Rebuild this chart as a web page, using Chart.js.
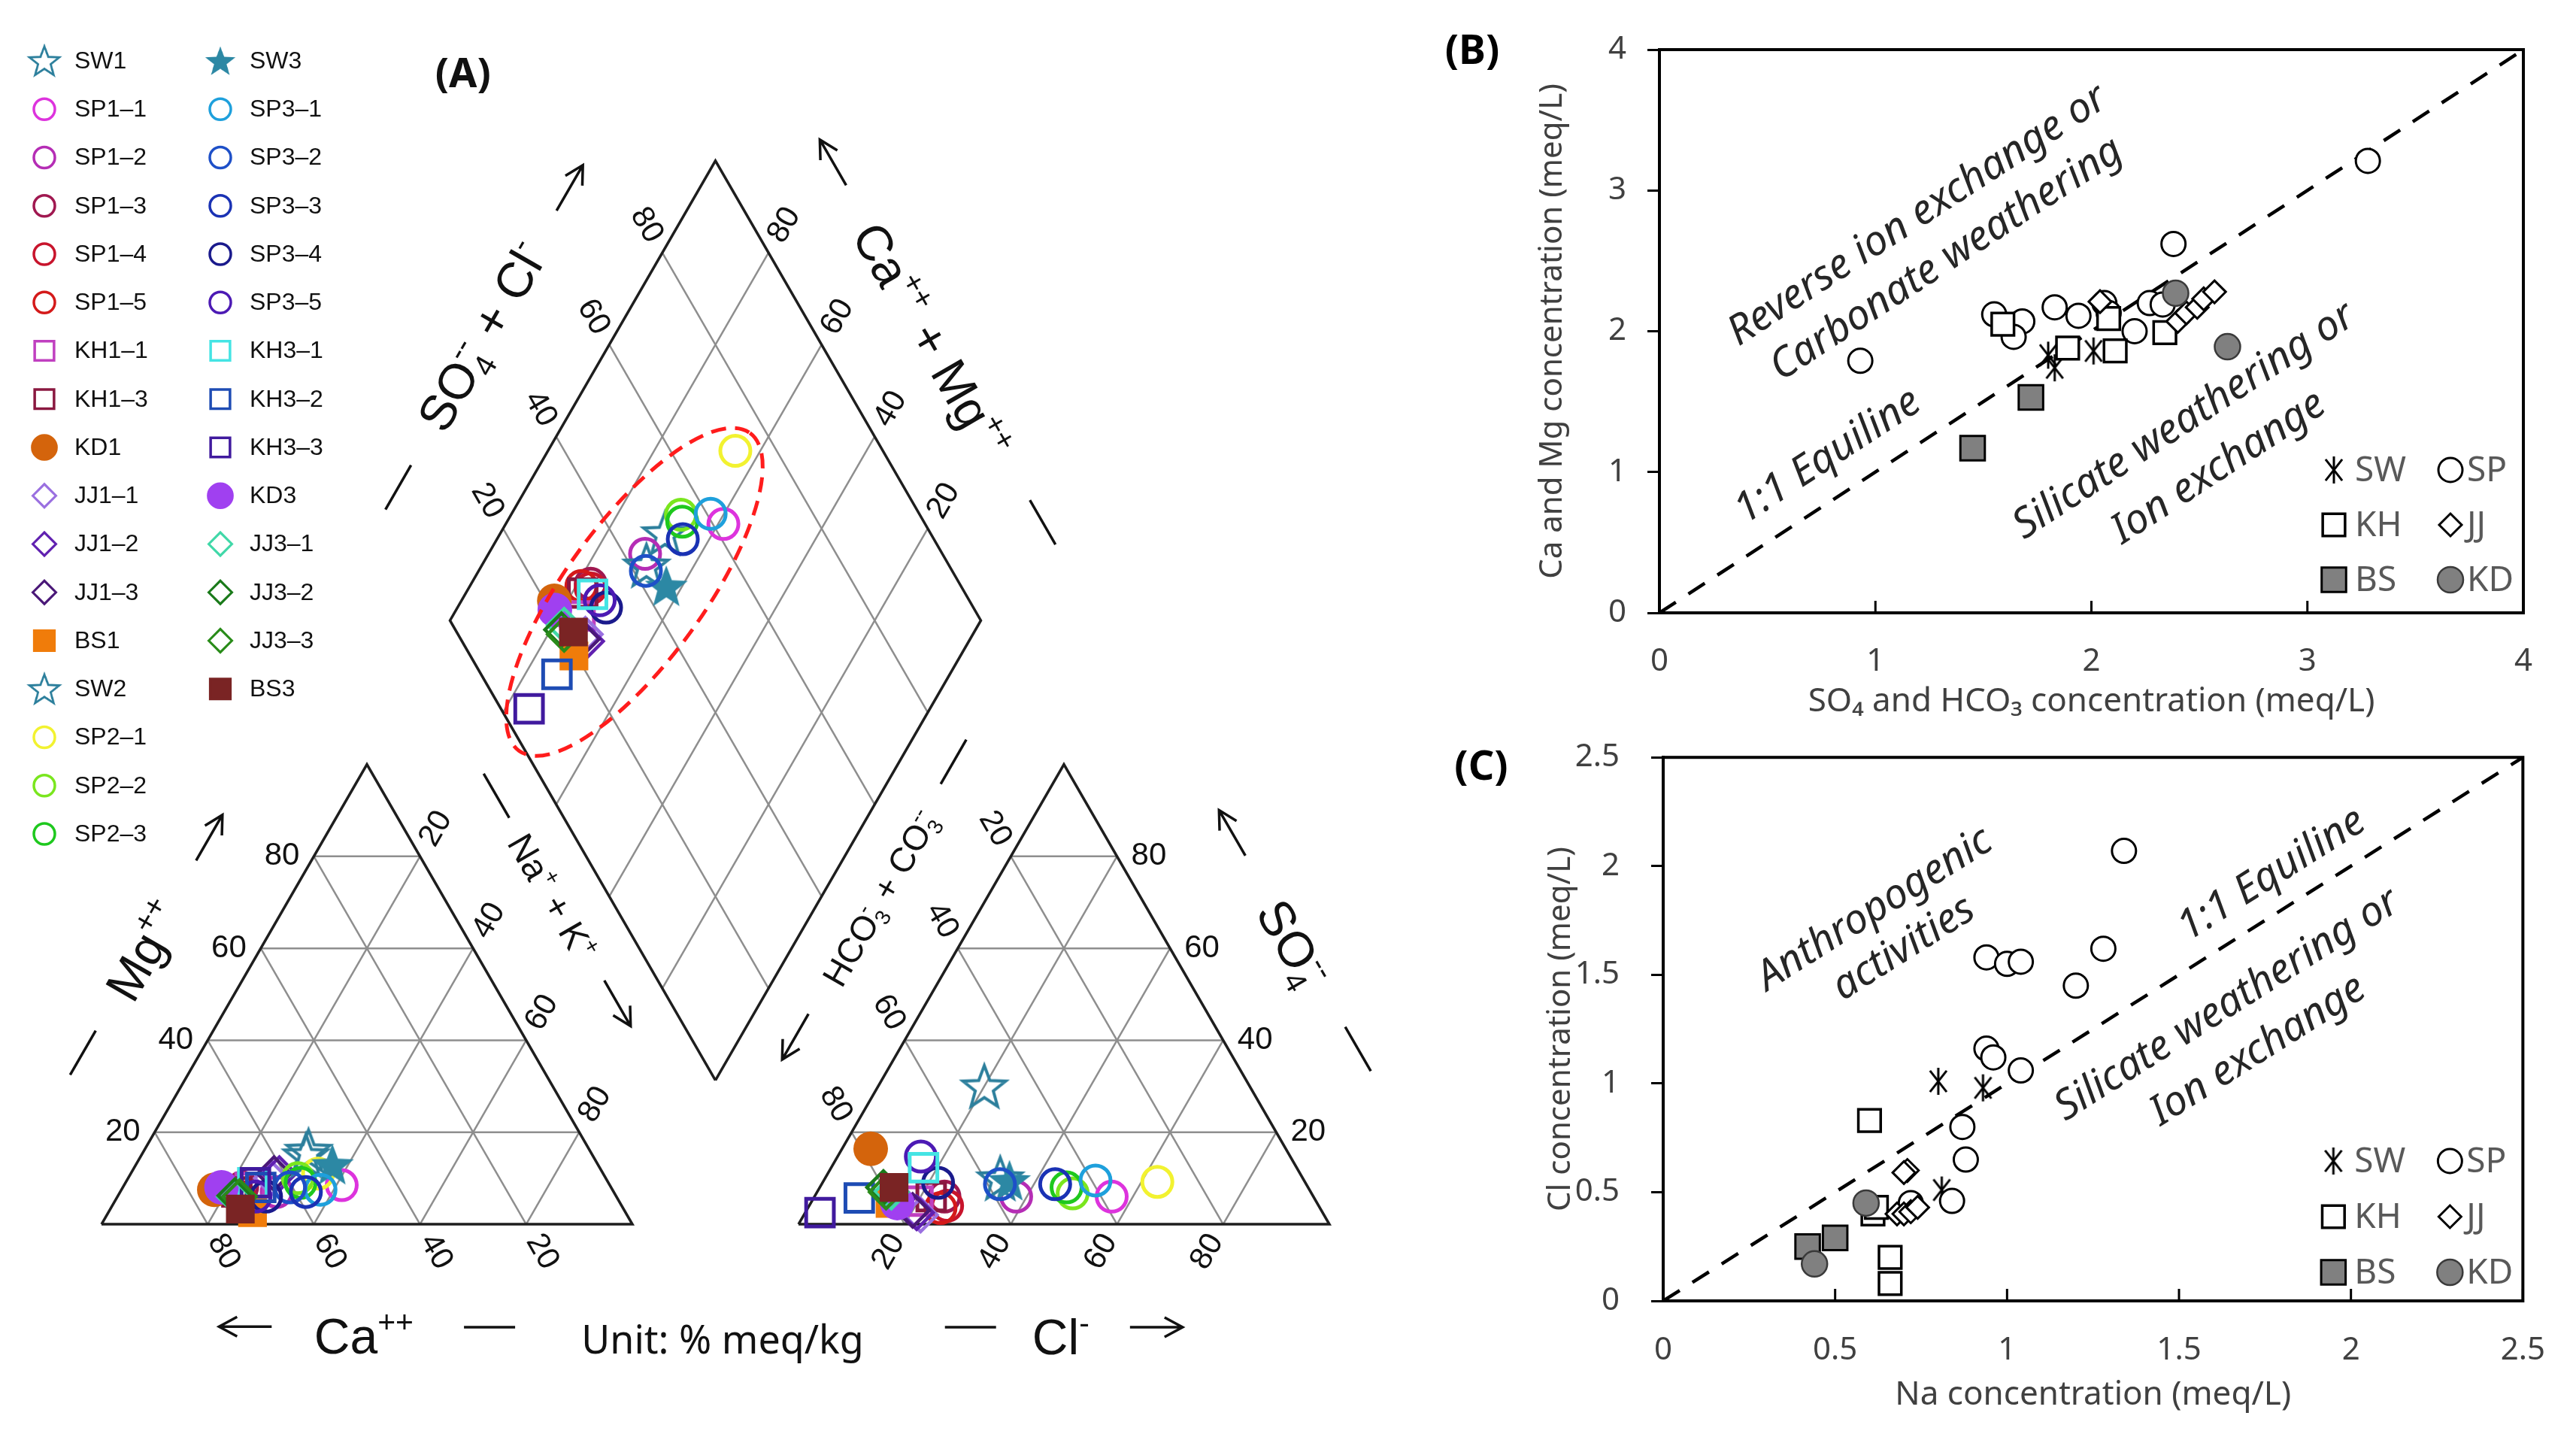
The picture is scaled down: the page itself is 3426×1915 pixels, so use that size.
<!DOCTYPE html>
<html>
<head>
<meta charset="utf-8">
<script src="https://cdn.jsdelivr.net/npm/chart.js@4.4.1/dist/chart.umd.min.js"></script>
<style>
  html, body { margin: 0; padding: 0; background: #fff; }
  body { width: 3426px; height: 1915px; position: relative; overflow: hidden; }
  canvas { position: absolute; }
  #piper { left: 0; top: 0; }
  #chartB { left: 1900px; top: 0; }
  #chartC { left: 1900px; top: 940px; }
</style>
</head>
<body>
<canvas id="piper" width="1900" height="1915"></canvas>
<canvas id="chartB" width="1526" height="960"></canvas>
<canvas id="chartC" width="1526" height="975"></canvas>
<script>
/* Piper diagram (A) + ion ratio scatter plots (B), (C) */

// ─── Data ────────────────────────────────────────────────────────────────────

// Piper samples, legend order (column 1 then column 2)
const sampleNames = [
  "SW1", "SP1–1", "SP1–2", "SP1–3", "SP1–4", "SP1–5", "KH1–1", "KH1–3", "KD1",
  "JJ1–1", "JJ1–2", "JJ1–3", "BS1", "SW2", "SP2–1", "SP2–2", "SP2–3",
  "SW3", "SP3–1", "SP3–2", "SP3–3", "SP3–4", "SP3–5", "KH3–1", "KH3–2", "KH3–3",
  "KD3", "JJ3–1", "JJ3–2", "JJ3–3", "BS3",
];
// cations, % meq (Na+K is the remainder)
const caPct  = [53, 50.5, 63.5, 69.5, 71, 72, 68, 71, 75, 63, 61, 62, 70.3, 54, 53.7, 58, 58,
                50, 55, 60.5, 58, 66, 68, 67, 66, 66.5, 73.4, 72, 71.8, 71, 72.2];
const mgPct  = [16, 8.5, 7, 8, 6, 7, 8, 7, 7.5, 10, 11, 11, 2.5, 15, 11, 10, 9,
                13, 7.5, 8, 7, 6, 6, 9, 8, 9, 8, 6, 6.2, 6, 3.3];
// anions, % meq (HCO3+CO3 is the remainder)
const clPct  = [20, 56, 38, 24.5, 26, 25, 20, 22, 5.4, 22, 21, 20, 15, 33, 63, 48.3, 46.5,
                35, 51.2, 33.6, 44, 21.8, 15.7, 17.4, 8.6, 2.8, 16.3, 14, 12, 13, 14];
const so4Pct = [30, 6, 6, 6, 4, 3.5, 5, 6, 16.4, 2, 2.5, 3, 4.5, 10, 9.2, 6.7, 8,
                9.5, 9.5, 8.7, 8.7, 9, 14.7, 12.3, 5.7, 2.5, 4.6, 7, 8, 7, 8];
const ternTicks = [20, 40, 60, 80];

// (B) SO4+HCO3 vs Ca+Mg, meq/L
const B_SW = [[1.80, 1.83], [1.83, 1.74], [2.01, 1.86]];
const B_SP = [[0.93, 1.79], [1.55, 2.12], [1.68, 2.07], [1.64, 1.96], [1.83, 2.17], [1.94, 2.11], [2.06, 2.20],
              [2.08, 2.13], [2.20, 2.00], [2.27, 2.20], [2.33, 2.19], [2.38, 2.62], [3.28, 3.21]];
const B_KH = [[1.59, 2.05], [1.89, 1.88], [2.08, 2.09], [2.11, 1.86], [2.34, 1.99]];
const B_JJ = [[2.04, 2.21], [2.40, 2.07], [2.44, 2.13], [2.49, 2.17], [2.52, 2.23], [2.57, 2.28]];
const B_BS = [[1.72, 1.53], [1.45, 1.17]];
const B_KD = [[2.39, 2.27], [2.63, 1.89]];

// (C) Na vs Cl, meq/L
const C_SW = [[0.80, 1.01], [0.93, 0.98], [0.81, 0.51]];
const C_SP = [[1.34, 2.07], [0.94, 1.58], [1.00, 1.55], [1.04, 1.56], [1.28, 1.62], [1.20, 1.45], [0.94, 1.16],
              [0.96, 1.12], [1.04, 1.06], [0.87, 0.80], [0.88, 0.65], [0.84, 0.46], [0.72, 0.45]];
const C_KH = [[0.60, 0.83], [0.61, 0.40], [0.62, 0.43], [0.66, 0.20], [0.66, 0.08]];
const C_JJ = [[0.71, 0.60], [0.70, 0.59], [0.68, 0.40], [0.70, 0.40], [0.72, 0.41], [0.74, 0.43]];
const C_BS = [[0.42, 0.25], [0.50, 0.29]];
const C_KD = [[0.59, 0.45], [0.44, 0.17]];

const groupNames = ["SW", "SP", "KH", "JJ", "BS", "KD"];

// ─── Styles ──────────────────────────────────────────────────────────────────

const sampleKind = [
  "star", "circle", "circle", "circle", "circle", "circle", "square", "square", "dot",
  "diamond", "diamond", "diamond", "block", "star", "circle", "circle", "circle",
  "starFill", "circle", "circle", "circle", "circle", "circle", "square", "square", "square",
  "dot", "diamond", "diamond", "diamond", "block",
];
const sampleColor = [
  "#2c7f9c", "#dd33dd", "#b52db5", "#a01850", "#c8142c", "#d41a1a", "#c040c0", "#8a1840", "#d4640c",
  "#9a70e0", "#6020b0", "#4a1878", "#f07c0a", "#2c7f9c", "#f2f230", "#7ae61e", "#1ec81e",
  "#2c88a4", "#1ea0dc", "#1e50c8", "#1a32b4", "#1a1a8c", "#4c1ab4", "#44e4e4", "#1e4cb4", "#401a9e",
  "#a040f0", "#40d8a8", "#1a7a1a", "#2a8c1a", "#7a2424",
];

const FONT_UI = '"Noto Sans", "Open Sans", sans-serif';
const FONT_PIPER = '"Liberation Sans", Arial, sans-serif';
const DEG = Math.PI / 180;

Chart.defaults.font.family = FONT_UI;

function makeStar(color, filled, R) {
  const c = document.createElement("canvas");
  const S = Math.ceil(2 * R + 10);
  c.width = c.height = S;
  const g = c.getContext("2d");
  g.translate(S / 2, S / 2 + R * 0.08);
  g.beginPath();
  for (let k = 0; k < 10; k++) {
    const rr = k % 2 ? R * 0.42 : R;
    const a = -Math.PI / 2 + k * Math.PI / 5;
    g.lineTo(rr * Math.cos(a), rr * Math.sin(a));
  }
  g.closePath();
  if (filled) { g.fillStyle = color; g.fill(); }
  else { g.strokeStyle = color; g.lineWidth = 4; g.stroke(); }
  return c;
}

function makeAsterisk(R) {
  const c = document.createElement("canvas");
  const S = Math.ceil(2 * R + 6);
  c.width = c.height = S;
  const g = c.getContext("2d");
  g.translate(S / 2, S / 2);
  g.strokeStyle = "#000";
  g.lineWidth = 3;
  [0, 38, -38].forEach((a) => {
    const dx = Math.sin(a * DEG) * R, dy = Math.cos(a * DEG) * R;
    g.beginPath(); g.moveTo(-dx, -dy); g.lineTo(dx, dy); g.stroke();
  });
  return c;
}

function piperStyle(kind, color) {
  const clear = "rgba(0,0,0,0)";
  switch (kind) {
    case "circle":  return { pointStyle: "circle", pointRadius: 20, pointBorderWidth: 5, pointBorderColor: color, pointBackgroundColor: clear };
    case "dot":     return { pointStyle: "circle", pointRadius: 23, pointBorderWidth: 0, pointBorderColor: color, pointBackgroundColor: color };
    case "square":  return { pointStyle: "rect", pointRadius: 26, pointBorderWidth: 5, pointBorderColor: color, pointBackgroundColor: clear };
    case "block":   return { pointStyle: "rect", pointRadius: 27, pointBorderWidth: 0, pointBorderColor: color, pointBackgroundColor: color };
    case "diamond": return { pointStyle: "rectRot", pointRadius: 22, pointBorderWidth: 4.5, pointBorderColor: color, pointBackgroundColor: clear };
    case "star":    return { pointStyle: makeStar(color, false, 30), pointRadius: 30 };
    default:        return { pointStyle: makeStar(color, true, 30), pointRadius: 30 };
  }
}

const groupStyle = {
  SW: { pointStyle: makeAsterisk(18), pointRadius: 18 },
  SP: { pointStyle: "circle", pointRadius: 16, pointBorderWidth: 3, pointBorderColor: "#000", pointBackgroundColor: "#fff" },
  KH: { pointStyle: "rect", pointRadius: 21, pointBorderWidth: 3.5, pointBorderColor: "#000", pointBackgroundColor: "#fff" },
  JJ: { pointStyle: "rectRot", pointRadius: 15, pointBorderWidth: 3, pointBorderColor: "#000", pointBackgroundColor: "#fff" },
  BS: { pointStyle: "rect", pointRadius: 23, pointBorderWidth: 3, pointBorderColor: "#000", pointBackgroundColor: "#808080" },
  KD: { pointStyle: "circle", pointRadius: 17, pointBorderWidth: 2.5, pointBorderColor: "#3a3a3a", pointBackgroundColor: "#808080" },
};

// same geometry as Chart.js drawPoint, used for hand-drawn legends
function drawMark(ctx, style, x, y, scale) {
  const r = style.pointRadius * scale;
  const ps = style.pointStyle;
  ctx.save();
  if (typeof ps !== "string") {
    const w = ps.width * scale, h = ps.height * scale;
    ctx.drawImage(ps, x - w / 2, y - h / 2, w, h);
    ctx.restore();
    return;
  }
  ctx.lineWidth = (style.pointBorderWidth || 0) * scale;
  ctx.strokeStyle = style.pointBorderColor;
  ctx.fillStyle = style.pointBackgroundColor;
  ctx.beginPath();
  if (ps === "circle") ctx.arc(x, y, r, 0, 2 * Math.PI);
  else if (ps === "rect") { const s = r * Math.SQRT1_2; ctx.rect(x - s, y - s, 2 * s, 2 * s); }
  else { ctx.moveTo(x - r, y); ctx.lineTo(x, y - r); ctx.lineTo(x + r, y); ctx.lineTo(x, y + r); ctx.closePath(); }
  ctx.fill();
  if (ctx.lineWidth > 0) ctx.stroke();
  ctx.restore();
}

// ─── Piper geometry (data units: triangle side = 100) ───────────────────────

const SIDE = 100;
const GAP = 31.3;
const H = SIDE * Math.sqrt(3) / 2;
const AN_X0 = SIDE + GAP;
const DIA_B = { x: SIDE + GAP / 2, y: GAP * Math.sqrt(3) / 2 };

const catXY = (ca, mg) => ({ x: (100 - ca - mg + mg / 2) * SIDE / 100, y: mg * H / 100 });
const anXY = (cl, so4) => ({ x: AN_X0 + (cl + so4 / 2) * SIDE / 100, y: so4 * H / 100 });
const diaXY = (nak, sc) => {
  const c = (100 - nak) / 100, s = sc / 100;
  return { x: DIA_B.x + (s - c) * SIDE / 2, y: DIA_B.y + (s + c) * H };
};

function seg(points, dark) {
  return {
    data: points, showLine: true, pointRadius: 0,
    borderColor: dark ? "#1e1e1e" : "#8e8e8e", borderWidth: dark ? 3.5 : 2.5,
    order: dark ? 900 : 1000,
  };
}

const gridSets = [];
ternTicks.forEach((v) => {
  gridSets.push(seg([catXY(100 - v, v), catXY(0, v)]));
  gridSets.push(seg([catXY(v, 0), catXY(v, 100 - v)]));
  gridSets.push(seg([catXY(100 - v, 0), catXY(0, 100 - v)]));
  gridSets.push(seg([anXY(0, v), anXY(100 - v, v)]));
  gridSets.push(seg([anXY(v, 0), anXY(v, 100 - v)]));
  gridSets.push(seg([anXY(100 - v, 0), anXY(0, 100 - v)]));
  gridSets.push(seg([diaXY(100 - v, 0), diaXY(100 - v, 100)]));
  gridSets.push(seg([diaXY(100, v), diaXY(0, v)]));
});
gridSets.push(seg([catXY(100, 0), catXY(0, 0), catXY(0, 100), catXY(100, 0)], true));
gridSets.push(seg([anXY(0, 0), anXY(100, 0), anXY(0, 100), anXY(0, 0)], true));
gridSets.push(seg([diaXY(100, 0), diaXY(0, 0), diaXY(0, 100), diaXY(100, 100), diaXY(100, 0)], true));

const sampleStyles = sampleNames.map((_, i) => piperStyle(sampleKind[i], sampleColor[i]));

const sampleSets = sampleNames.map((name, i) => {
  const nak = 100 - caPct[i] - mgPct[i];
  return {
    label: name,
    data: [catXY(caPct[i], mgPct[i]), anXY(clPct[i], so4Pct[i]), diaXY(nak, clPct[i] + so4Pct[i])],
    order: 100 - i,
    ...sampleStyles[i],
  };
});

// ─── Piper text helpers ──────────────────────────────────────────────────────

// parts: {t} normal, {sup}, {sub, sup} stacked
function drawRich(ctx, parts, x, y, rot, size) {
  const small = size * 0.62;
  const f = (s) => `${s}px ${FONT_PIPER}`;
  ctx.save();
  ctx.translate(x, y);
  ctx.rotate(rot * DEG);
  ctx.textAlign = "left";
  ctx.textBaseline = "alphabetic";
  const widths = parts.map((p) => {
    if (p.t !== undefined) { ctx.font = f(size); return ctx.measureText(p.t).width; }
    ctx.font = f(small);
    return Math.max(ctx.measureText(p.sup || "").width, ctx.measureText(p.sub || "").width) + size * 0.04;
  });
  let cx = -widths.reduce((a, b) => a + b, 0) / 2;
  const base = size * 0.36;
  parts.forEach((p, k) => {
    if (p.t !== undefined) { ctx.font = f(size); ctx.fillText(p.t, cx, base); }
    else {
      ctx.font = f(small);
      if (p.sup) ctx.fillText(p.sup, cx, base - size * 0.42);
      if (p.sub) ctx.fillText(p.sub, cx, base + size * 0.2);
    }
    cx += widths[k];
  });
  ctx.restore();
}

function drawArrow(ctx, x, y, angle, len) {
  ctx.save();
  ctx.translate(x, y);
  ctx.rotate(angle * DEG);
  ctx.beginPath();
  ctx.moveTo(-len / 2, 0); ctx.lineTo(len / 2, 0);
  ctx.moveTo(len / 2 - 24, -13); ctx.lineTo(len / 2, 0); ctx.lineTo(len / 2 - 24, 13);
  ctx.stroke();
  ctx.restore();
}

function drawDash(ctx, x, y, angle, len) {
  ctx.save();
  ctx.translate(x, y);
  ctx.rotate(angle * DEG);
  ctx.beginPath(); ctx.moveTo(-len / 2, 0); ctx.lineTo(len / 2, 0); ctx.stroke();
  ctx.restore();
}

const piperTitles = [
  { parts: [{ t: "Mg" }, { sup: "++" }], at: [8.1, 51.7], rot: -60, size: 66 },
  { parts: [{ t: "Na" }, { sup: "+" }, { t: " + K" }, { sup: "+" }], at: [85.0, 61.6], rot: 60, size: 48 },
  { parts: [{ t: "Ca" }, { sup: "++" }], at: [49.6, -21.0], rot: 0, size: 66 },
  { parts: [{ t: "Cl" }, { sup: "-" }], at: [180.9, -21.1], rot: 0, size: 66 },
  { parts: [{ t: "SO" }, { sub: "4", sup: "--" }], at: [224.6, 52.7], rot: 60, size: 66 },
  { parts: [{ t: "HCO" }, { sub: "3", sup: "-" }, { t: " + CO" }, { sub: "3", sup: "--" }], at: [146.7, 61.5], rot: -60, size: 46 },
  { parts: [{ t: "SO" }, { sub: "4", sup: "--" }, { t: " + Cl" }, { sup: "-" }], at: [71.7, 167.4], rot: -60, size: 66 },
  { parts: [{ t: "Ca" }, { sup: "++" }, { t: " + Mg" }, { sup: "++" }], at: [156.5, 166.3], rot: 60, size: 66 },
];
const piperArrows = [[20.3, 72.8, -60], [97.2, 41.6, 60], [27.1, -19.3, 180], [198.7, -19.4, 0],
                     [213.0, 73.7, -120], [130.7, 35.3, 120], [88.2, 195.2, -60], [137.8, 200.0, -120]];
const piperDashes = [[-3.5, 32.3, -60], [74.4, 80.7, 60], [73.1, -19.4, 0], [163.7, -19.4, 0],
                     [236.7, 33.0, 60], [160.5, 87.1, -60], [55.9, 138.8, -60], [177.3, 132.2, 60]];

const piperDecor = {
  id: "piperDecor",
  afterDatasetsDraw(chart) {
    const { ctx, scales: { x, y } } = chart;
    const unit = x.getPixelForValue(1) - x.getPixelForValue(0);
    const P = (p) => ({ x: x.getPixelForValue(p.x), y: y.getPixelForValue(p.y) });
    ctx.save();

    // red dashed envelope around the samples in the diamond
    const ec = P({ x: 100.4, y: 119.1 });
    ctx.beginPath();
    ctx.ellipse(ec.x, ec.y, 37 * unit, 13 * unit, -54 * DEG, 0, 2 * Math.PI);
    ctx.setLineDash([20, 12]);
    ctx.strokeStyle = "#ff1c1c";
    ctx.lineWidth = 5;
    ctx.stroke();
    ctx.setLineDash([]);

    // tick labels, placed along each grid line just outside the edge
    ctx.fillStyle = "#111";
    ctx.font = `42px ${FONT_PIPER}`;
    ctx.textAlign = "center";
    ctx.textBaseline = "middle";
    const off = 6 * unit;
    const place = (pt, dir, rot, v) => {
      const p = P(pt);
      ctx.save();
      ctx.translate(p.x + dir[0] * off, p.y + dir[1] * off);
      ctx.rotate(rot * DEG);
      ctx.fillText(String(v), 0, 0);
      ctx.restore();
    };
    const s3 = Math.sqrt(3) / 2;
    ternTicks.forEach((v) => {
      place(catXY(100 - v, v), [-1, 0], 0, v);
      place(catXY(v, 0), [0.5, s3], 60, v);
      place(catXY(0, 100 - v), [0.5, -s3], -60, v);
      place(anXY(0, 100 - v), [-0.5, -s3], 60, v);
      place(anXY(v, 0), [-0.5, s3], -60, v);
      place(anXY(100 - v, v), [1, 0], 0, v);
      place(diaXY(0, v), [-0.5, -s3], 60, v);
      place(diaXY(100 - v, 100), [0.5, -s3], -60, v);
    });

    // axis titles, arrows and dashes
    piperTitles.forEach((t) => {
      const p = P({ x: t.at[0], y: t.at[1] });
      drawRich(ctx, t.parts, p.x, p.y, t.rot, t.size);
    });
    ctx.strokeStyle = "#111";
    ctx.lineWidth = 3.5;
    piperArrows.forEach(([ax, ay, ang]) => { const p = P({ x: ax, y: ay }); drawArrow(ctx, p.x, p.y, ang, 70); });
    piperDashes.forEach(([ax, ay, ang]) => { const p = P({ x: ax, y: ay }); drawDash(ctx, p.x, p.y, ang, 68); });

    const u = P({ x: 117.0, y: -22.2 });
    ctx.font = `52px ${FONT_UI}`;
    ctx.fillStyle = "#111";
    ctx.fillText("Unit: % meq/kg", u.x, u.y);

    const a = P({ x: 68.1, y: 216.4 });
    ctx.font = `bold 54px ${FONT_UI}`;
    ctx.fillText("(A)", a.x, a.y);

    // sample legend, two columns
    ctx.font = `32px ${FONT_PIPER}`;
    ctx.textAlign = "left";
    sampleNames.forEach((name, i) => {
      const col = i < 17 ? 0 : 1;
      const row = col ? i - 17 : i;
      const ly = 81 + row * 64.25;
      drawMark(ctx, sampleStyles[i], col ? 293 : 59, ly, 0.7);
      ctx.fillStyle = "#111";
      ctx.fillText(name, col ? 332 : 99, ly + 1);
    });
    ctx.restore();
  },
};

new Chart(document.getElementById("piper"), {
  type: "scatter",
  data: { datasets: [...sampleSets, ...gridSets] },
  options: {
    responsive: false, animation: false, devicePixelRatio: 1, events: [],
    layout: { padding: 0, autoPadding: false },
    plugins: { legend: { display: false }, tooltip: { enabled: false } },
    scales: {
      x: { type: "linear", display: false, min: -135 / 7.06, max: (1900 - 135) / 7.06 },
      y: { type: "linear", display: false, min: -(1915 - 1628) / 7.06, max: 1628 / 7.06 },
    },
  },
  plugins: [piperDecor],
});

// ─── Ratio plots (B), (C) ───────────────────────────────────────────────────

const toXY = (arr) => arr.map(([x, y]) => ({ x, y }));

function ratioDecor(cfg) {
  return {
    id: "ratioDecor",
    afterDraw(chart) {
      const { ctx, chartArea: a, scales: { x, y } } = chart;
      ctx.save();
      ctx.strokeStyle = "#000";
      ctx.lineWidth = 4;
      ctx.strokeRect(a.left, a.top, a.width, a.height);

      ctx.lineWidth = 3;
      x.ticks.forEach((t) => {
        const px = x.getPixelForValue(t.value);
        ctx.beginPath(); ctx.moveTo(px, a.bottom); ctx.lineTo(px, a.bottom - 16); ctx.stroke();
      });

      // region notes, parallel to the 1:1 line
      const ang = Math.atan2(y.getPixelForValue(1) - y.getPixelForValue(0), x.getPixelForValue(1) - x.getPixelForValue(0));
      ctx.fillStyle = "#262626";
      ctx.font = `italic 55px ${FONT_UI}`;
      ctx.textAlign = "center";
      ctx.textBaseline = "middle";
      cfg.notes.forEach(([t, vx, vy]) => {
        ctx.save();
        ctx.translate(x.getPixelForValue(vx), y.getPixelForValue(vy));
        ctx.rotate(ang);
        ctx.fillText(t, 0, 0);
        ctx.restore();
      });

      // group legend, 3 rows x 2 columns in the lower right corner
      ctx.font = `46px ${FONT_UI}`;
      ctx.textAlign = "left";
      groupNames.forEach((g, k) => {
        const col = k % 2, row = Math.floor(k / 2);
        const ly = a.bottom - cfg.legendRows[row];
        drawMark(ctx, groupStyle[g], a.right - (col ? 97 : 252), ly, 1);
        ctx.fillStyle = "#595959";
        ctx.fillText(g, a.right - (col ? 75 : 224), ly + 2);
      });

      ctx.font = `bold 54px ${FONT_UI}`;
      ctx.fillStyle = "#000";
      ctx.textAlign = "center";
      ctx.fillText(cfg.letter, a.left + cfg.letterAt[0], a.top + cfg.letterAt[1]);
      ctx.restore();
    },
  };
}

function ratioChart(el, cfg) {
  const groups = [cfg.sw, cfg.sp, cfg.kh, cfg.jj, cfg.bs, cfg.kd];
  const datasets = groups.map((arr, k) => ({
    label: groupNames[k], data: toXY(arr), order: 10 - k, ...groupStyle[groupNames[k]],
  }));
  datasets.push({
    label: "1:1", data: toXY([[0, 0], [cfg.max, cfg.max]]), showLine: true, pointRadius: 0,
    borderColor: "#000", borderWidth: 4.5, borderDash: [26, 20], order: 50,
  });
  const tickFont = { family: FONT_UI, size: 42 };
  const titleFont = { family: FONT_UI, size: 44 };
  const plain = (v) => String(Number(v.toFixed(2)));
  return new Chart(el, {
    type: "scatter",
    data: { datasets },
    options: {
      responsive: false, animation: false, devicePixelRatio: 1, events: [],
      layout: { padding: cfg.padding, autoPadding: false },
      plugins: { legend: { display: false }, tooltip: { enabled: false } },
      scales: {
        x: {
          type: "linear", min: 0, max: cfg.max,
          ticks: { stepSize: cfg.step, padding: cfg.xTickPad, color: "#404040", font: tickFont, callback: plain },
          grid: { display: true, drawOnChartArea: false, drawTicks: false, color: "#000", lineWidth: 3 },
          border: { display: true, color: "#000", width: 4 },
          title: { display: true, text: cfg.xTitle, color: "#404040", font: titleFont, padding: 0 },
          afterFit: (s) => { s.height = cfg.xHeight; },
        },
        y: {
          type: "linear", min: 0, max: cfg.max,
          ticks: { stepSize: cfg.step, padding: cfg.yTickPad, color: "#404040", font: tickFont, callback: plain },
          grid: { display: true, drawOnChartArea: false, drawTicks: true, tickLength: 16, color: "#000", lineWidth: 3 },
          border: { display: true, color: "#000", width: 4 },
          title: { display: true, text: cfg.yTitle, color: "#404040", font: { family: FONT_UI, size: 42 }, padding: { top: cfg.yTitlePad, bottom: 0 } },
          afterFit: (s) => { s.width = cfg.yWidth; },
        },
      },
    },
    plugins: [ratioDecor(cfg)],
  });
}

ratioChart(document.getElementById("chartB"), {
  max: 4, step: 1,
  sw: B_SW, sp: B_SP, kh: B_KH, jj: B_JJ, bs: B_BS, kd: B_KD,
  xTitle: "SO₄ and HCO₃ concentration (meq/L)",
  yTitle: "Ca and Mg concentration (meq/L)",
  padding: { left: 120, right: 70, top: 66, bottom: 0 },
  xHeight: 145, yWidth: 187, xTickPad: 40, yTickPad: 28, yTitlePad: 20,
  notes: [
    ["Reverse ion exchange or", 1.195, 2.82],
    ["Carbonate weathering", 1.33, 2.51],
    ["1:1 Equiline", 0.78, 1.11],
    ["Silicate weathering or", 2.43, 1.36],
    ["Ion exchange", 2.59, 1.03],
  ],
  legendRows: [190, 117, 44],
  letter: "(B)", letterAt: [-249, 4],
});

ratioChart(document.getElementById("chartC"), {
  max: 2.5, step: 0.5,
  sw: C_SW, sp: C_SP, kh: C_KH, jj: C_JJ, bs: C_BS, kd: C_KD,
  xTitle: "Na concentration (meq/L)",
  yTitle: "Cl concentration (meq/L)",
  padding: { left: 120, right: 64, top: 54, bottom: 33 },
  xHeight: 152, yWidth: 192, xTickPad: 41, yTickPad: 42, yTitlePad: 31,
  notes: [
    ["Anthropogenic", 0.615, 1.80],
    ["activities", 0.70, 1.62],
    ["1:1 Equiline", 1.77, 1.96],
    ["Silicate weathering or", 1.64, 1.36],
    ["Ion exchange", 1.73, 1.15],
  ],
  legendRows: [186, 112, 38],
  letter: "(C)", letterAt: [-242, 14],
});
</script>
</body>
</html>
